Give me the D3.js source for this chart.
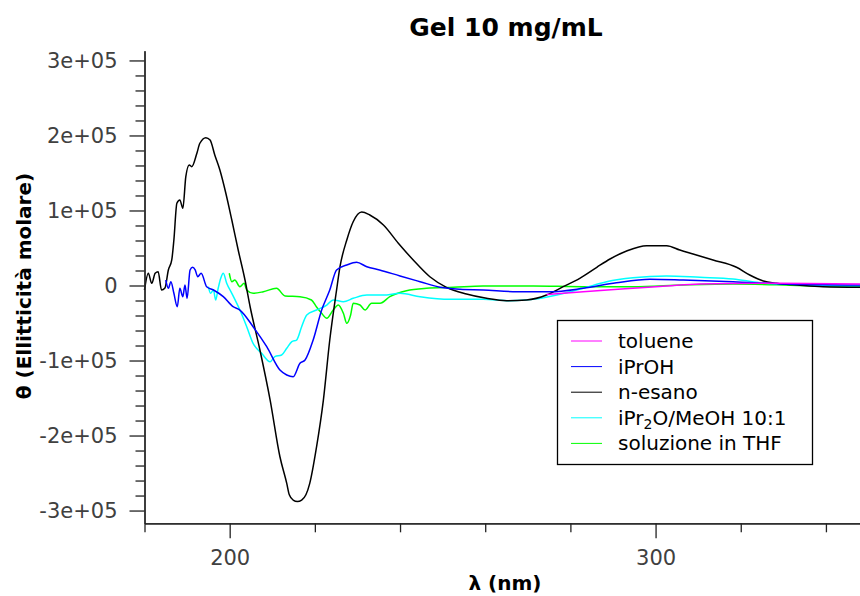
<!DOCTYPE html>
<html>
<head>
<meta charset="utf-8">
<script src="https://cdn.jsdelivr.net/npm/d3@7"></script>
<style>
  body { margin: 0; background: #fff; }
  text { font-family: "DejaVu Sans", sans-serif; }
</style>
</head>
<body>
<div id="chart"></div>
<script>
// series names, in legend order
const seriesNames = ["toluene", "iPrOH", "n-esano", "iPr2O/MeOH 10:1", "soluzione in THF"]
const seriesColors = ["#ff00ff", "#0000ff", "#000000", "#00ffff", "#00ff00"]

// toluene
const tolueneNm    = [274.4, 283.0, 294.7, 302.6, 310.4, 326.1, 348.0]
const tolueneTheta = [-12000, -8300, -3700, -700, 2000, 2900, 2000]

// iPrOH
const iproNm = [185.0, 185.6, 186.2, 186.9, 187.7, 188.3, 189.0, 189.5, 190.0, 190.7, 191.3, 191.9, 192.5, 193.3,
  194.6, 196.2, 198.5, 200.8, 202.4, 205.5, 208.7, 211.8, 213.4, 214.9, 216.5, 217.7, 219.6, 221.6, 223.5, 225.1,
  227.5, 229.8, 232.2, 235.2, 240.0, 244.7, 249.4, 254.1, 259.5, 267.4, 275.2, 283.0, 290.8, 298.7, 306.5, 318.2,
  330.0, 348.0]
const iproTheta = [7300, -3700, 5100, -10400, -28300, -3700, -14900, 700, -17100, 20700, 24300, 20700, 11700, 16300,
  -1600, -6000, -14900, -28300, -32700, -54900, -81600, -112700, -119300, -121600, -103700, -99300, -72700, -32700, -6000, 20700,
  27300, 30900, 25000, 20700, 12700, 5100, -2400, -5100, -6000, -8300, -8300, -3700, 3700, 8300, 7300, 5100,
  2000, 700]

// n-esano
const esanoNm = [180.0, 180.9, 181.7, 182.5, 183.2, 184.0, 184.8, 185.6, 186.4, 186.9, 187.6, 188.3, 189.0, 189.7,
  190.5, 191.1, 192.3, 193.0, 194.4, 195.4, 196.5, 197.7, 199.1, 200.5, 202.0, 203.6, 204.8, 207.1, 209.5, 211.8,
  213.4, 214.0, 214.9, 215.9, 216.9, 217.9, 218.8, 220.4, 222.0, 223.5, 225.1, 225.9, 227.5, 229.0, 231.0, 232.9,
  236.1, 239.6, 243.1, 247.0, 250.9, 255.6, 260.3, 265.0, 269.7, 274.4, 278.3, 282.2, 286.2, 289.3, 293.2, 297.9,
  302.6, 305.7, 308.8, 313.5, 319.0, 322.1, 325.3, 328.4, 333.9, 339.3, 348.0]
const esanoTheta = [-6000, 16300, 2900, 16300, 18400, -6000, -3300, 20700, 34000, 60700, 109600, 114000, 103000, 145000,
  160700, 158400, 176300, 189600, 197100, 194000, 174000, 154000, 123000, 87300, 47300, 7300, -28300, -86000, -152700, -228300,
  -263700, -279000, -286000, -288000, -286000, -279000, -263700, -215000, -152700, -72700, -6000, 25000, 60700, 85000, 98000, 94000,
  80700, 56300, 34000, 11700, -2400, -11300, -17000, -20300, -19300, -12700, -1600, 9600, 24300, 35300, 46000, 53100,
  53100, 47300, 42000, 34000, 24300, 14000, 6000, 2900, 300, -1600, -2400]

// iPr2O/MeOH 10:1
const ipr2oNm = [195.0, 195.5, 196.2, 196.7, 197.3, 197.9, 198.5, 199.3, 200.5, 202.4, 204.0, 205.5, 207.5, 209.5,
  210.6, 212.2, 213.4, 214.6, 215.7, 216.9, 218.1, 220.4, 222.8, 224.3, 226.7, 229.0, 232.2, 236.1, 240.0, 244.7,
  251.7, 259.5, 265.8, 271.3, 276.8, 283.0, 288.5, 294.7, 302.6, 310.4, 318.2, 324.5, 333.9, 348.0]
const ipr2oTheta = [-1600, -10400, -6000, -19300, -3700, 9600, 16300, 2900, -10400, -32700, -54900, -77100, -90400, -101600,
  -94900, -92700, -83700, -74900, -72700, -54900, -39300, -32700, -26000, -19300, -21600, -17100, -12700, -12700, -10400, -14900,
  -18400, -18400, -20300, -18400, -12700, -3700, 5100, 10400, 12700, 10900, 8700, 3700, 1100, -700]

// soluzione in THF
const thfNm = [199.9, 200.5, 201.2, 202.4, 203.4, 204.0, 205.5, 207.9, 211.0, 213.0, 216.5, 219.2, 220.4, 221.6,
  222.8, 224.3, 225.5, 226.7, 227.5, 228.4, 229.0, 230.6, 231.8, 233.3, 235.3, 237.6, 241.5, 246.2, 252.5, 259.5,
  271.3, 283.0, 294.7, 306.5, 318.2, 330.0, 337.8, 348.0]
const thfTheta = [16300, 5100, 7300, -1600, 2900, -6000, -10400, -8300, -3700, -14000, -14900, -19300, -28700, -37100,
  -43700, -32700, -26000, -37100, -50400, -39300, -23700, -26000, -32700, -23700, -23700, -14900, -6900, -3700, -2400, -700,
  -700, -1600, -1600, 700, 2000, 700, -700, -1600]

// axis ticks
const xMajorTicks = [200, 300]
const xTickLabels = ["200", "300"]
const xMinorTicks = [180, 220, 240, 260, 280, 320, 340]
const yMajorTicks = [-300000, -200000, -100000, 0, 100000, 200000, 300000]
const yTickLabels = ["-3e+05", "-2e+05", "-1e+05", "0", "1e+05", "2e+05", "3e+05"]
const yMinorTicks = d3.range(-300000, 300001, 20000).filter(v => v % 100000 !== 0)

const width = 860, height = 596
const margin = { top: 50.7, right: 0, bottom: 72.7, left: 144.5 }

const series = [
  { name: seriesNames[0], nm: tolueneNm, theta: tolueneTheta },
  { name: seriesNames[1], nm: iproNm, theta: iproTheta },
  { name: seriesNames[2], nm: esanoNm, theta: esanoTheta },
  { name: seriesNames[3], nm: ipr2oNm, theta: ipr2oTheta },
  { name: seriesNames[4], nm: thfNm, theta: thfTheta }
]

const color = d3.scaleOrdinal(seriesNames, seriesColors)

const x = d3.scaleLinear()
  .domain([180, 348])
  .range([margin.left, width - margin.right])

const y = d3.scaleLinear()
  .domain([-317000, 313000])
  .range([height - margin.bottom, margin.top])

const svg = d3.select("#chart")
  .append("svg")
  .attr("width", width)
  .attr("height", height)

const line = d3.line()
  .x(d => x(d[0]))
  .y(d => y(d[1]))
  .curve(d3.curveMonotoneX)

// draw lines (green first, toluene last so it sits on top at the right)
const drawOrder = [4, 3, 2, 1, 0]
for (const i of drawOrder) {
  const s = series[i]
  svg.append("path")
    .datum(s.nm.map((v, j) => [v, s.theta[j]]))
    .attr("fill", "none")
    .attr("stroke", color(s.name))
    .attr("stroke-width", 1.5)
    .attr("stroke-linejoin", "round")
    .attr("d", line)
}

// axes
const styleAxis = g => g
  .call(g => g.selectAll(".domain").attr("stroke", "#222").attr("stroke-width", 1.3))
  .call(g => g.selectAll(".tick line").attr("stroke", "#222").attr("stroke-width", 1.3))
  .call(g => g.selectAll(".tick text").attr("fill", "#404040").attr("font-size", 21)
    .attr("font-family", "DejaVu Sans, sans-serif"))

svg.append("g")
  .attr("transform", `translate(0,${height - margin.bottom})`)
  .call(d3.axisBottom(x).tickValues(xMinorTicks).tickSize(9).tickFormat("").tickSizeOuter(0))
  .call(styleAxis)

svg.append("g")
  .attr("transform", `translate(0,${height - margin.bottom})`)
  .call(d3.axisBottom(x).tickValues(xMajorTicks).tickSize(15).tickPadding(12)
    .tickFormat((d, i) => xTickLabels[i]).tickSizeOuter(0))
  .call(styleAxis)

svg.append("g")
  .attr("transform", `translate(${margin.left},0)`)
  .call(d3.axisLeft(y).tickValues(yMinorTicks).tickSize(9).tickFormat("").tickSizeOuter(0))
  .call(styleAxis)

svg.append("g")
  .attr("transform", `translate(${margin.left},0)`)
  .call(d3.axisLeft(y).tickValues(yMajorTicks).tickSize(15).tickPadding(12)
    .tickFormat((d, i) => yTickLabels[i]).tickSizeOuter(0))
  .call(styleAxis)

// title and axis labels
svg.append("text")
  .attr("x", 506)
  .attr("y", 36)
  .attr("text-anchor", "middle")
  .attr("font-size", 25)
  .attr("font-weight", "bold")
  .text("Gel 10 mg/mL")

svg.append("text")
  .attr("x", 505)
  .attr("y", 590)
  .attr("text-anchor", "middle")
  .attr("font-size", 20)
  .attr("font-weight", "bold")
  .text("λ (nm)")

svg.append("text")
  .attr("transform", "translate(31,286) rotate(-90)")
  .attr("text-anchor", "middle")
  .attr("font-size", 20)
  .attr("font-weight", "bold")
  .text("θ (Ellitticità molare)")

// legend
const lg = svg.append("g")
lg.append("rect")
  .attr("x", 557.5).attr("y", 320.5)
  .attr("width", 255).attr("height", 144)
  .attr("fill", "#fff")
  .attr("stroke", "#000")
  .attr("stroke-width", 1.3)

series.forEach((s, i) => {
  const ly = 341 + i * 25.6
  lg.append("line")
    .attr("x1", 571).attr("x2", 602)
    .attr("y1", ly).attr("y2", ly)
    .attr("stroke", color(s.name))
    .attr("stroke-width", 1)
  const t = lg.append("text")
    .attr("x", 618).attr("y", ly)
    .attr("dy", "0.35em")
    .attr("font-size", 20)
    .attr("fill", "#000")
  if (s.name === "iPr2O/MeOH 10:1") {
    t.append("tspan").text("iPr")
    t.append("tspan").attr("font-size", 14).attr("dy", 4).text("2")
    t.append("tspan").attr("dy", -4).text("O/MeOH 10:1")
  } else {
    t.text(s.name)
  }
})
</script>
</body>
</html>
